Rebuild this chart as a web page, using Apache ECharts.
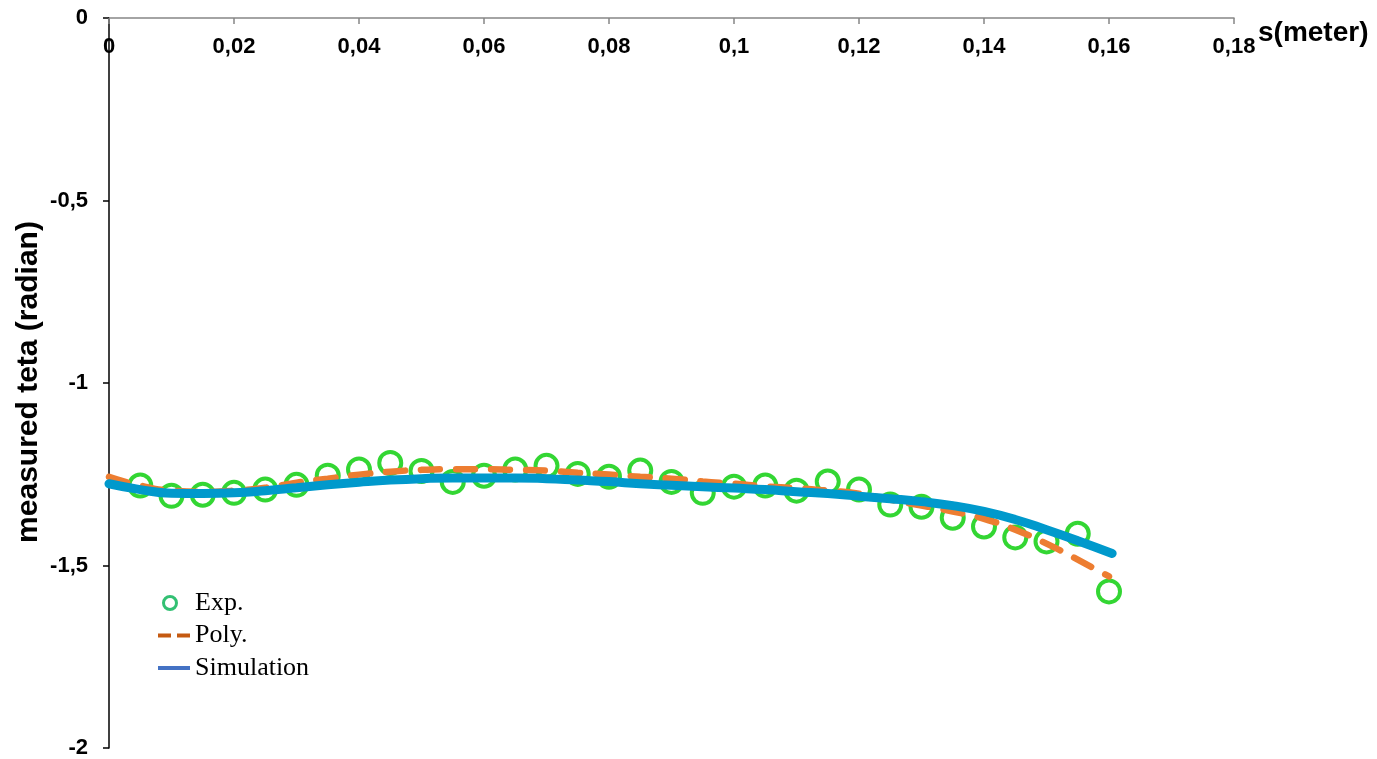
<!DOCTYPE html>
<html>
<head>
<meta charset="utf-8">
<script src="https://cdn.jsdelivr.net/npm/echarts@6/dist/echarts.min.js"></script>
<style>html,body{margin:0;padding:0;background:#fff}#c{width:1377px;height:759px}</style>
</head>
<body>
<div id="c"></div>
<script>
var sPositions = [0,0.005,0.01,0.015,0.02,0.025,0.03,0.035,0.04,0.045,0.05,0.055,0.06,0.065,0.07,0.075,0.08,0.085,0.09,0.095,0.1,0.105,0.11,0.115,0.12,0.125,0.13,0.135,0.14,0.145,0.15,0.155,0.16];
var expX = [0.005,0.01,0.015,0.02,0.025,0.03,0.035,0.04,0.045,0.05,0.055,0.06,0.065,0.07,0.075,0.08,0.085,0.09,0.095,0.1,0.105,0.11,0.115,0.12,0.125,0.13,0.135,0.14,0.145,0.15,0.155,0.16];
var expY = [-1.281,-1.309,-1.306,-1.301,-1.292,-1.279,-1.254,-1.237,-1.219,-1.241,-1.271,-1.254,-1.237,-1.227,-1.249,-1.257,-1.240,-1.271,-1.301,-1.284,-1.281,-1.295,-1.270,-1.292,-1.333,-1.339,-1.369,-1.393,-1.423,-1.434,-1.413,-1.571];
var polyY = [-1.257,-1.281,-1.295,-1.298,-1.295,-1.287,-1.273,-1.262,-1.251,-1.243,-1.238,-1.236,-1.236,-1.238,-1.240,-1.246,-1.251,-1.257,-1.262,-1.270,-1.276,-1.283,-1.288,-1.295,-1.303,-1.320,-1.336,-1.352,-1.372,-1.402,-1.440,-1.484,-1.530];
var simX = [0,0.005,0.01,0.015,0.02,0.025,0.03,0.035,0.04,0.045,0.05,0.055,0.06,0.065,0.07,0.075,0.08,0.085,0.09,0.095,0.1,0.105,0.11,0.115,0.12,0.125,0.13,0.135,0.14,0.145,0.15,0.155,0.1605];
var simY = [-1.276,-1.292,-1.302,-1.303,-1.301,-1.295,-1.287,-1.279,-1.272,-1.266,-1.262,-1.260,-1.260,-1.260,-1.262,-1.266,-1.270,-1.276,-1.280,-1.284,-1.288,-1.292,-1.298,-1.303,-1.310,-1.317,-1.325,-1.336,-1.352,-1.374,-1.402,-1.432,-1.467];
var xTicks = {min:0, max:0.18, step:0.02};
var yTicks = {min:-2, max:0, step:0.5};

function fmt(v){ return String(+v.toFixed(4)).replace('.', ','); }
function zip(a,b){ return a.map(function(v,i){ return [v,b[i]]; }); }

var chart = echarts.init(document.getElementById('c'));
chart.setOption({
  animation:false,
  grid:{left:109, top:18, right:143, bottom:10, containLabel:false},
  xAxis:{
    type:'value', position:'top', min:xTicks.min, max:xTicks.max, interval:xTicks.step,
    axisLine:{show:true, onZero:false, lineStyle:{color:'#868686', width:1.5}},
    axisTick:{show:true, inside:true, length:6, lineStyle:{color:'#868686', width:1.5}},
    axisLabel:{inside:true, margin:29, formatter:fmt, fontFamily:'Liberation Sans, Arial', fontWeight:'bold', fontSize:22, color:'#000', verticalAlign:'middle'},
    splitLine:{show:false}
  },
  yAxis:{
    type:'value', min:yTicks.min, max:yTicks.max, interval:yTicks.step,
    axisLine:{show:true, onZero:false, lineStyle:{color:'#000', width:1.5}},
    axisTick:{show:true, length:6, lineStyle:{color:'#000', width:1.5}},
    axisLabel:{margin:21, formatter:fmt, fontFamily:'Liberation Sans, Arial', fontWeight:'bold', fontSize:22, color:'#000'},
    splitLine:{show:false}
  },
  legend:{
    orient:'vertical', left:153, top:585, itemGap:6.5, itemWidth:32, itemHeight:16,
    symbolKeepAspect:true,
    textStyle:{fontFamily:'Liberation Serif, Times New Roman', fontSize:26, lineHeight:26, color:'#000'},
    data:[
      {name:'Exp.', icon:'path://M0,0L0.001,0L0,0ZM32,16L31.999,16L32,16ZM4,8A8,8,0,1,0,20,8A8,8,0,1,0,4,8ZM7,8A5,5,0,1,1,17,8A5,5,0,1,1,7,8Z', itemStyle:{color:'#00B050', borderWidth:0}},
      {name:'Poly.', icon:'path://M0,6H13V10H0Z M19,6H32V10H19Z', itemStyle:{color:'#C55A11', borderWidth:0}, lineStyle:{width:0}},
      {name:'Simulation', icon:'path://M0,6H32V10H0Z', itemStyle:{color:'#4472C4', borderWidth:0}, lineStyle:{width:0}}
    ]
  },
  graphic:[
    {type:'text', left:1258, top:19, style:{text:'s(meter)', font:'bold 28px "Liberation Sans", Arial', fill:'#000'}},
    {type:'text', x:29, y:382, rotation:Math.PI/2, style:{text:'measured teta (radian)', font:'bold 30px "Liberation Sans", Arial', fill:'#000', align:'center', verticalAlign:'middle'}}
  ],
  series:[
    {name:'Exp.', type:'scatter', data:zip(expX, expY), symbol:'circle', symbolSize:22,
     itemStyle:{color:'transparent', borderColor:'#00CC00', borderWidth:4}, z:2},
    {name:'Poly.', type:'line', data:zip(sPositions, polyY), smooth:true, showSymbol:false, symbol:'none',
     lineStyle:{color:'#ED7D31', width:6.5, type:[19,16], cap:'round'}, z:3},
    {name:'Simulation', type:'line', data:zip(simX, simY), smooth:true, showSymbol:false, symbol:'none',
     lineStyle:{color:'#0099CC', width:9, cap:'round'}, z:4}
  ]
});
</script>
</body>
</html>
